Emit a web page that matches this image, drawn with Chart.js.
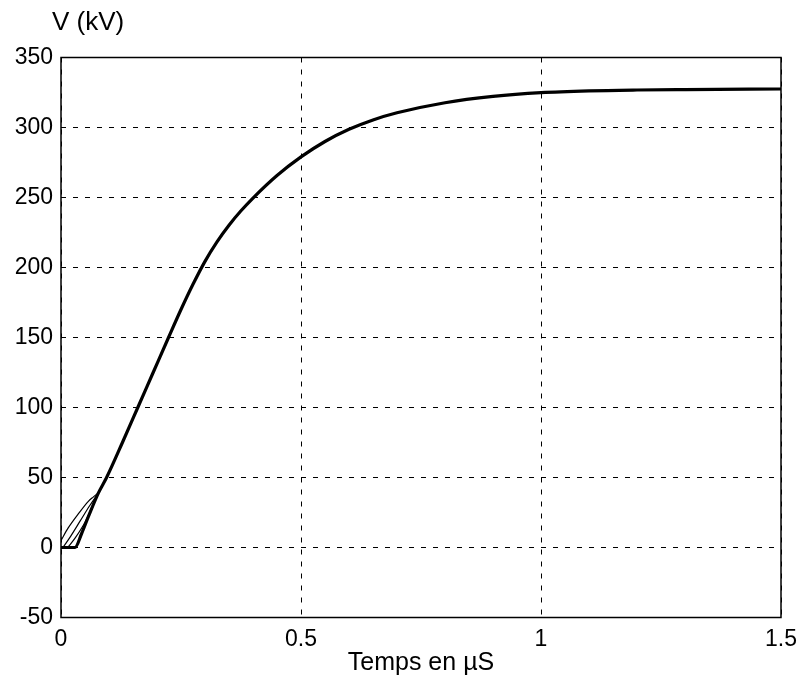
<!DOCTYPE html>
<html><head><meta charset="utf-8">
<script src="https://cdn.jsdelivr.net/npm/chart.js@4/dist/chart.umd.min.js"></script>
<style>html,body{margin:0;padding:0;background:#fff}#wrap{width:806px;height:685px;position:relative}</style>
</head><body><div id="wrap"><canvas id="c"></canvas></div>
<script>
// Main response (time in µs, voltage in kV)
const mainT = [0, 0.029, 0.043, 0.057, 0.078, 0.095, 0.128, 0.16, 0.192, 0.224, 0.25, 0.275, 0.3, 0.325, 0.35, 0.375, 0.4, 0.45, 0.5, 0.55, 0.6, 0.65, 0.7, 0.8, 0.9, 1.0, 1.1, 1.2, 1.3, 1.5];
const mainV = [0, 0, 10, 22, 39, 50, 75, 100, 125, 150, 170, 188, 204.4, 218.3, 230.2, 240.5, 249.6, 265.7, 279, 290, 298.7, 305.4, 310.5, 317.7, 322.2, 324.9, 326.2, 326.8, 327.1, 327.5];
// Early transients that merge into the main curve
const thinAT = [0, 0.015, 0.036, 0.057, 0.067, 0.078];
const thinAV = [5, 14, 24, 33, 36, 39];
const thinBT = [0.004, 0.02, 0.04, 0.06, 0.078];
const thinBV = [0, 8, 19, 30, 39];
const thinCT = [0.014, 0.03, 0.05, 0.066, 0.078];
const thinCV = [0, 7, 18, 30, 39];
const xTicks = [0, 0.5, 1, 1.5];
const yTicks = [-50, 0, 50, 100, 150, 200, 250, 300, 350];
const xLabel = 'Temps en µS';
const yLabel = 'V (kV)';

const pts = (t, v) => t.map((x, i) => ({x: x, y: v[i]}));
const FONT = '"Liberation Sans", Arial, sans-serif';

const frame = {
  id: 'frame',
  afterDraw(chart) {
    const {ctx, chartArea: a} = chart;
    ctx.save();
    ctx.strokeStyle = '#000';
    ctx.lineWidth = 1.5;
    ctx.strokeRect(a.left, a.top, a.right - a.left, a.bottom - a.top);
    ctx.fillStyle = '#000';
    ctx.font = '26px ' + FONT;
    ctx.textBaseline = 'middle';
    ctx.textAlign = 'left';
    ctx.fillText(yLabel, a.left - 9, 23);
    ctx.restore();
  }
};

const lineDs = (data, w) => ({
  data: data, borderColor: '#000', borderWidth: w, pointRadius: 0,
  fill: false, cubicInterpolationMode: 'monotone'
});

new Chart(document.getElementById('c'), {
  type: 'line',
  data: {
    datasets: [
      lineDs(pts(thinAT, thinAV), 1.2),
      lineDs(pts(thinBT, thinBV), 1.2),
      lineDs(pts(thinCT, thinCV), 1.2),
      lineDs(pts(mainT, mainV), 3.2)
    ]
  },
  options: {
    responsive: true, maintainAspectRatio: false, animation: false,
    layout: {padding: {top: 57.5, right: 25, left: 0, bottom: 0}},
    plugins: {legend: {display: false}, tooltip: {enabled: false}, title: {display: false}},
    scales: {
      x: {
        type: 'linear', min: 0, max: 1.5,
        afterBuildTicks: s => { s.ticks = xTicks.map(v => ({value: v})); },
        afterFit: s => { s.height = 67.5; },
        ticks: {color: '#000', font: {family: FONT, size: 23}, padding: 8, maxRotation: 0,
                callback: v => String(v)},
        grid: {color: '#000', lineWidth: 1, drawTicks: false},
        border: {display: false, dash: [5, 7]},
        title: {display: true, text: xLabel, color: '#000', font: {family: FONT, size: 25},
                padding: {top: 0, bottom: 7}}
      },
      y: {
        type: 'linear', min: -50, max: 350,
        afterBuildTicks: s => { s.ticks = yTicks.map(v => ({value: v})); },
        afterFit: s => { s.width = 61; },
        ticks: {color: '#000', font: {family: FONT, size: 23}, padding: 8,
                callback: v => String(v)},
        grid: {color: '#000', lineWidth: 1, drawTicks: false},
        border: {display: false, dash: [5, 7]}
      }
    }
  },
  plugins: [frame]
});
</script>
</body></html>
